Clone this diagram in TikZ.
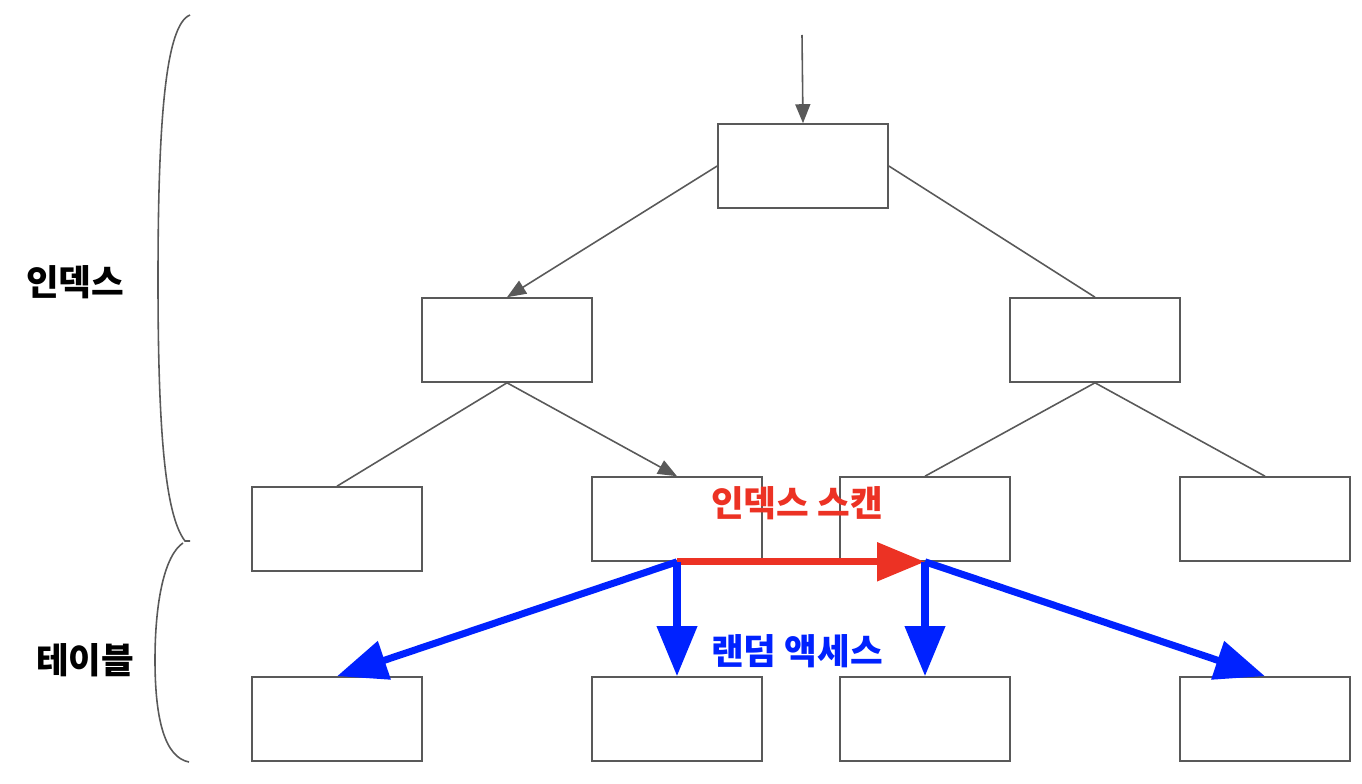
\documentclass[tikz,border=0pt]{standalone}
\usepackage{fontspec}
\newfontfamily\krfont{Noto Sans CJK KR}
\usetikzlibrary{arrows.meta}
\definecolor{linegray}{RGB}{89,89,89}
\definecolor{scanred}{RGB}{236,50,36}
\definecolor{accessblue}{RGB}{0,34,255}
\begin{document}
\begin{tikzpicture}[
    font=\krfont\bfseries\fontsize{20.2pt}{22pt}\selectfont,
    page box/.style={
        draw=linegray, line width=0.9pt,
        minimum width=3.4cm, minimum height=1.68cm, inner sep=0pt
    },
    tree link/.style={draw=linegray, line width=0.9pt},
    tree arrow/.style={tree link, -{Triangle[length=0.38cm, width=0.3cm]}},
    scan arrow/.style={draw=scanred, line width=4pt,
        -{Triangle[length=0.96cm, width=0.75cm]}},
    access arrow/.style={draw=accessblue, line width=4pt,
        -{Triangle[length=1cm, width=0.78cm]}}
]
    \useasboundingbox (0,0) rectangle (27.24,-15.68);

    % index pages
    \node[page box] (root) at (16.06,-3.32) {};
    \node[page box] (mid left) at (10.14,-6.8) {};
    \node[page box] (mid right) at (21.9,-6.8) {};
    \node[page box] (leaf a) at (6.74,-10.58) {};
    \node[page box] (leaf b) at (13.54,-10.38) {};
    \node[page box] (leaf c) at (18.5,-10.38) {};
    \node[page box] (leaf d) at (25.3,-10.38) {};

    % table pages
    \node[page box] (row a) at (6.74,-14.38) {};
    \node[page box] (row b) at (13.54,-14.38) {};
    \node[page box] (row c) at (18.5,-14.38) {};
    \node[page box] (row d) at (25.3,-14.38) {};

    \coordinate (entry) at (16.04,-0.7);
    \draw[tree arrow] (entry) -- (root.north);
    \draw[tree arrow] (root.west) -- (mid left.north);
    \draw[tree link] (root.east) -- (mid right.north);
    \draw[tree link] (mid left.south) -- (leaf a.north);
    \draw[tree arrow] (mid left.south) -- (leaf b.north);
    \draw[tree link] (mid right.south) -- (leaf c.north);
    \draw[tree link] (mid right.south) -- (leaf d.north);

    \draw[scan arrow] (leaf b.south) -- (leaf c.south);
    \draw[access arrow] (leaf b.south) -- (row a.north);
    \draw[access arrow] (leaf b.south) -- (row b.north);
    \draw[access arrow] (leaf c.south) -- (row c.north);
    \draw[access arrow] (leaf c.south) -- (row d.north);

    \node[text=scanred] (scan label) at (15.94,-10.06) {인덱스 스캔};
    \node[text=accessblue] (access label) at (15.94,-13.02) {랜덤 액세스};

    % braces on the left
    \draw[linegray, line width=0.9pt]
        (3.8,-0.3) .. controls (3.3,-0.5) and (3.16,-2.5) .. (3.16,-5.6)
        .. controls (3.16,-8.6) and (3.3,-10.3) .. (3.7,-10.82) -- (3.8,-10.82);
    \draw[linegray, line width=0.9pt]
        (3.66,-10.86) .. controls (3.3,-11.1) and (3.1,-12.0) .. (3.1,-13.2)
        .. controls (3.1,-14.4) and (3.3,-15.15) .. (3.78,-15.24);

    \node (index label) at (1.5,-5.64) {인덱스};
    \node (table label) at (1.7,-13.2) {테이블};
\end{tikzpicture}
\end{document}
